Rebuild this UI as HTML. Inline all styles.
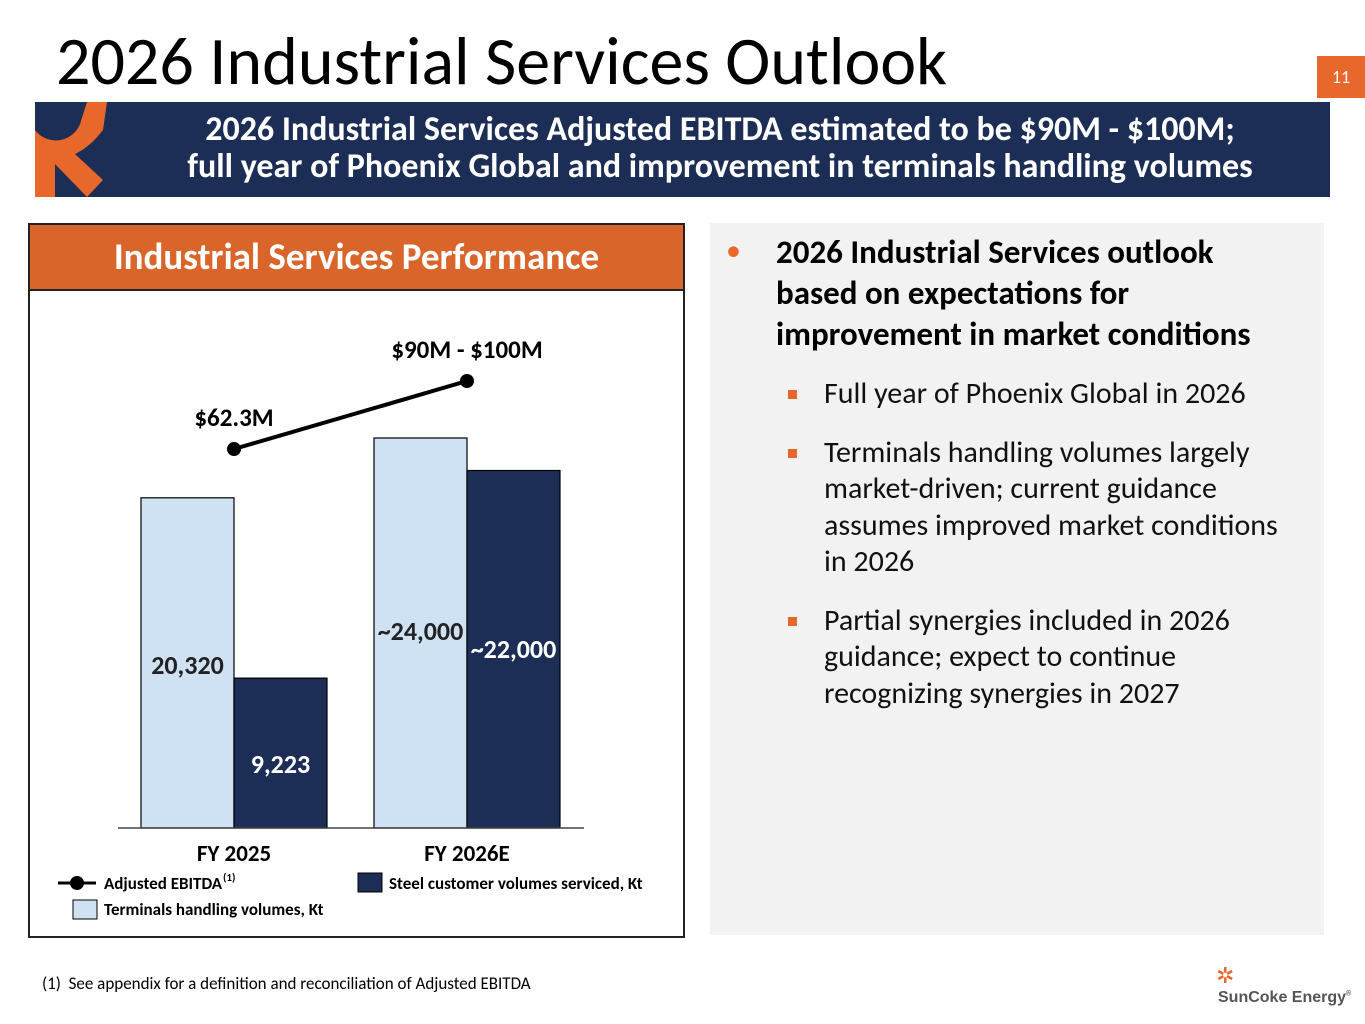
<!DOCTYPE html>
<html><head><meta charset="utf-8"><style>
body{margin:0;width:1365px;height:1024px;background:#fff;font-family:"Carlito","Liberation Sans",sans-serif;position:relative;overflow:hidden}
.a{position:absolute}
</style></head><body>
<div class="a" style="left:56px;top:24px;font-size:68px;color:#000;line-height:76px">2026 Industrial Services Outlook</div>
<div class="a" style="left:1317px;top:56px;width:48px;height:42px;background:#e8672b;color:#fff;font-size:18px;text-align:center;line-height:42px">11</div>
<div class="a" style="left:35px;top:102px;width:1295px;height:95px;background:#1c2d56"></div>
<svg class="a" style="left:35px;top:102px" width="80" height="95">
<path d="M0 28 A26 26 0 0 0 40 26 L45 22 L52 0 L72 0 L68 28 Q55 45 40 52 L68 78 L52 95 L20 62 L20 95 L0 95Z" fill="#e8672b"/>
<path d="M0 0 L50 0 L45 22 A26 26 0 0 1 0 28Z" fill="#1c2d56"/></svg>
<div class="a" style="left:120px;top:111px;width:1200px;text-align:center;color:#fff;font-weight:bold;font-size:34px;line-height:37px;white-space:nowrap">2026 Industrial Services Adjusted EBITDA estimated to be $90M - $100M;<br>full year of Phoenix Global and improvement in terminals handling volumes</div>
<div class="a" style="left:28px;top:223px;width:653px;height:711px;border:2px solid #222"></div>
<div class="a" style="left:30px;top:225px;width:653px;height:64px;background:#d9652b;color:#fff;font-weight:bold;font-size:37px;text-align:center;line-height:64px;border-bottom:2px solid #222">Industrial Services Performance</div>
<svg class="a" id="chart" style="left:0;top:0" width="700" height="940"></svg>
<div class="a" style="left:710px;top:223px;width:614px;height:712px;background:#f2f2f2"></div>
<div class="a" style="left:726px;top:232px;color:#e8672b;font-size:30px">•</div>
<div class="a" style="left:776px;top:232px;width:510px;font-weight:bold;font-size:33px;line-height:41px">2026 Industrial Services outlook based on expectations for improvement in market conditions</div>
<div class="a" style="left:788px;top:376px;width:504px;font-size:30px;line-height:36.5px;color:#111">
<div style="position:relative;padding-left:36px;margin-bottom:22px"><span style="position:absolute;left:0;top:14px;width:9px;height:9px;background:#e8672b"></span>Full year of Phoenix Global in 2026</div>
<div style="position:relative;padding-left:36px;margin-bottom:22px"><span style="position:absolute;left:0;top:14px;width:9px;height:9px;background:#e8672b"></span>Terminals handling volumes largely market-driven; current guidance assumes improved market conditions in 2026</div>
<div style="position:relative;padding-left:36px"><span style="position:absolute;left:0;top:14px;width:9px;height:9px;background:#e8672b"></span>Partial synergies included in 2026 guidance; expect to continue recognizing synergies in 2027</div>
</div>
<div class="a" style="left:42px;top:973px;font-size:17px">(1)&nbsp; See appendix for a definition and reconciliation of Adjusted EBITDA</div>
<div class="a" style="left:1218px;top:965px;width:140px">
<div style="color:#e8672b;font-size:22px;line-height:22px;margin-left:-2px">✲</div>
<div style="color:#555;font-family:'Liberation Sans',sans-serif;font-weight:bold;font-size:16px;margin-top:2px">SunCoke Energy<sup style="font-size:7px">®</sup></div></div>
<script>
const categories=["FY 2025","FY 2026E"];
const terminalVolumes=[20320,24000];
const steelVolumes=[9223,22000];
const terminalLabels=["20,320","~24,000"];
const steelLabels=["9,223","~22,000"];
const ebitda=[62.3,95];
const ebitdaLabels=["$62.3M","$90M - $100M"];
const svg=document.getElementById('chart');
const NS="http://www.w3.org/2000/svg";
const base=828,centers=[234,467],bw=93;
const yBar=v=>base-v*0.01625;
const yLine=v=>578.6-v*2.08;
function mk(t,a,txt){const e=document.createElementNS(NS,t);for(const k in a)e.setAttribute(k,a[k]);if(txt)e.textContent=txt;svg.appendChild(e);return e;}
const F='font-family:Carlito,"Liberation Sans",sans-serif;font-weight:bold';
categories.forEach((c,i)=>{
 const x=centers[i];
 let r=mk('rect',{x:x-bw,y:yBar(terminalVolumes[i]),width:bw,height:base-yBar(terminalVolumes[i]),fill:'#cfe2f3',stroke:'#000','stroke-width':1.2});
 
 
 r=mk('rect',{x:x,y:yBar(steelVolumes[i]),width:bw,height:base-yBar(steelVolumes[i]),fill:'#1c2d56',stroke:'#000','stroke-width':1.2});
 
 
 let t=mk('text',{x:x-bw/2,y:i==0?674:640,'text-anchor':'middle','font-size':26,style:F,fill:'#222'},terminalLabels[i]);
 
 
 t=mk('text',{x:x+bw/2,y:i==0?773:658,'text-anchor':'middle','font-size':26,style:F,fill:'#fff'},steelLabels[i]);
 
 
 t=mk('text',{x:x,y:861,'text-anchor':'middle','font-size':23,style:F},c);
 
 
});
const ax=mk('line',{x1:118,x2:584,y1:base,y2:base,stroke:'#444','stroke-width':1.5});


const ln=mk('line',{x1:centers[0],y1:yLine(ebitda[0]),x2:centers[1],y2:yLine(ebitda[1]),stroke:'#000','stroke-width':4});


ebitda.forEach((v,i)=>{
 const c=mk('circle',{cx:centers[i],cy:yLine(v),r:7,fill:'#000'});
 
 
 const t=mk('text',{x:i==0?234:467,y:yLine(v)-23,'text-anchor':'middle','font-size':25,style:F},ebitdaLabels[i]);
 
 
});
let l=mk('line',{x1:58,x2:96,y1:883,y2:883,stroke:'#000','stroke-width':3});
l=mk('circle',{cx:77,cy:883,r:7,fill:'#000'});
l=mk('text',{x:104,y:889,'font-size':17,style:F},'Adjusted EBITDA');
l=mk('text',{x:223,y:881,'font-size':11,style:F},'(1)');
l=mk('rect',{x:358,y:873,width:24,height:19,fill:'#1c2d56',stroke:'#000'});
l=mk('text',{x:389,y:889,'font-size':17,style:F},'Steel customer volumes serviced, Kt');
l=mk('rect',{x:73,y:900,width:24,height:19,fill:'#cfe2f3',stroke:'#000'});
l=mk('text',{x:104,y:915,'font-size':17,style:F},'Terminals handling volumes, Kt');
</script>
</body></html>
